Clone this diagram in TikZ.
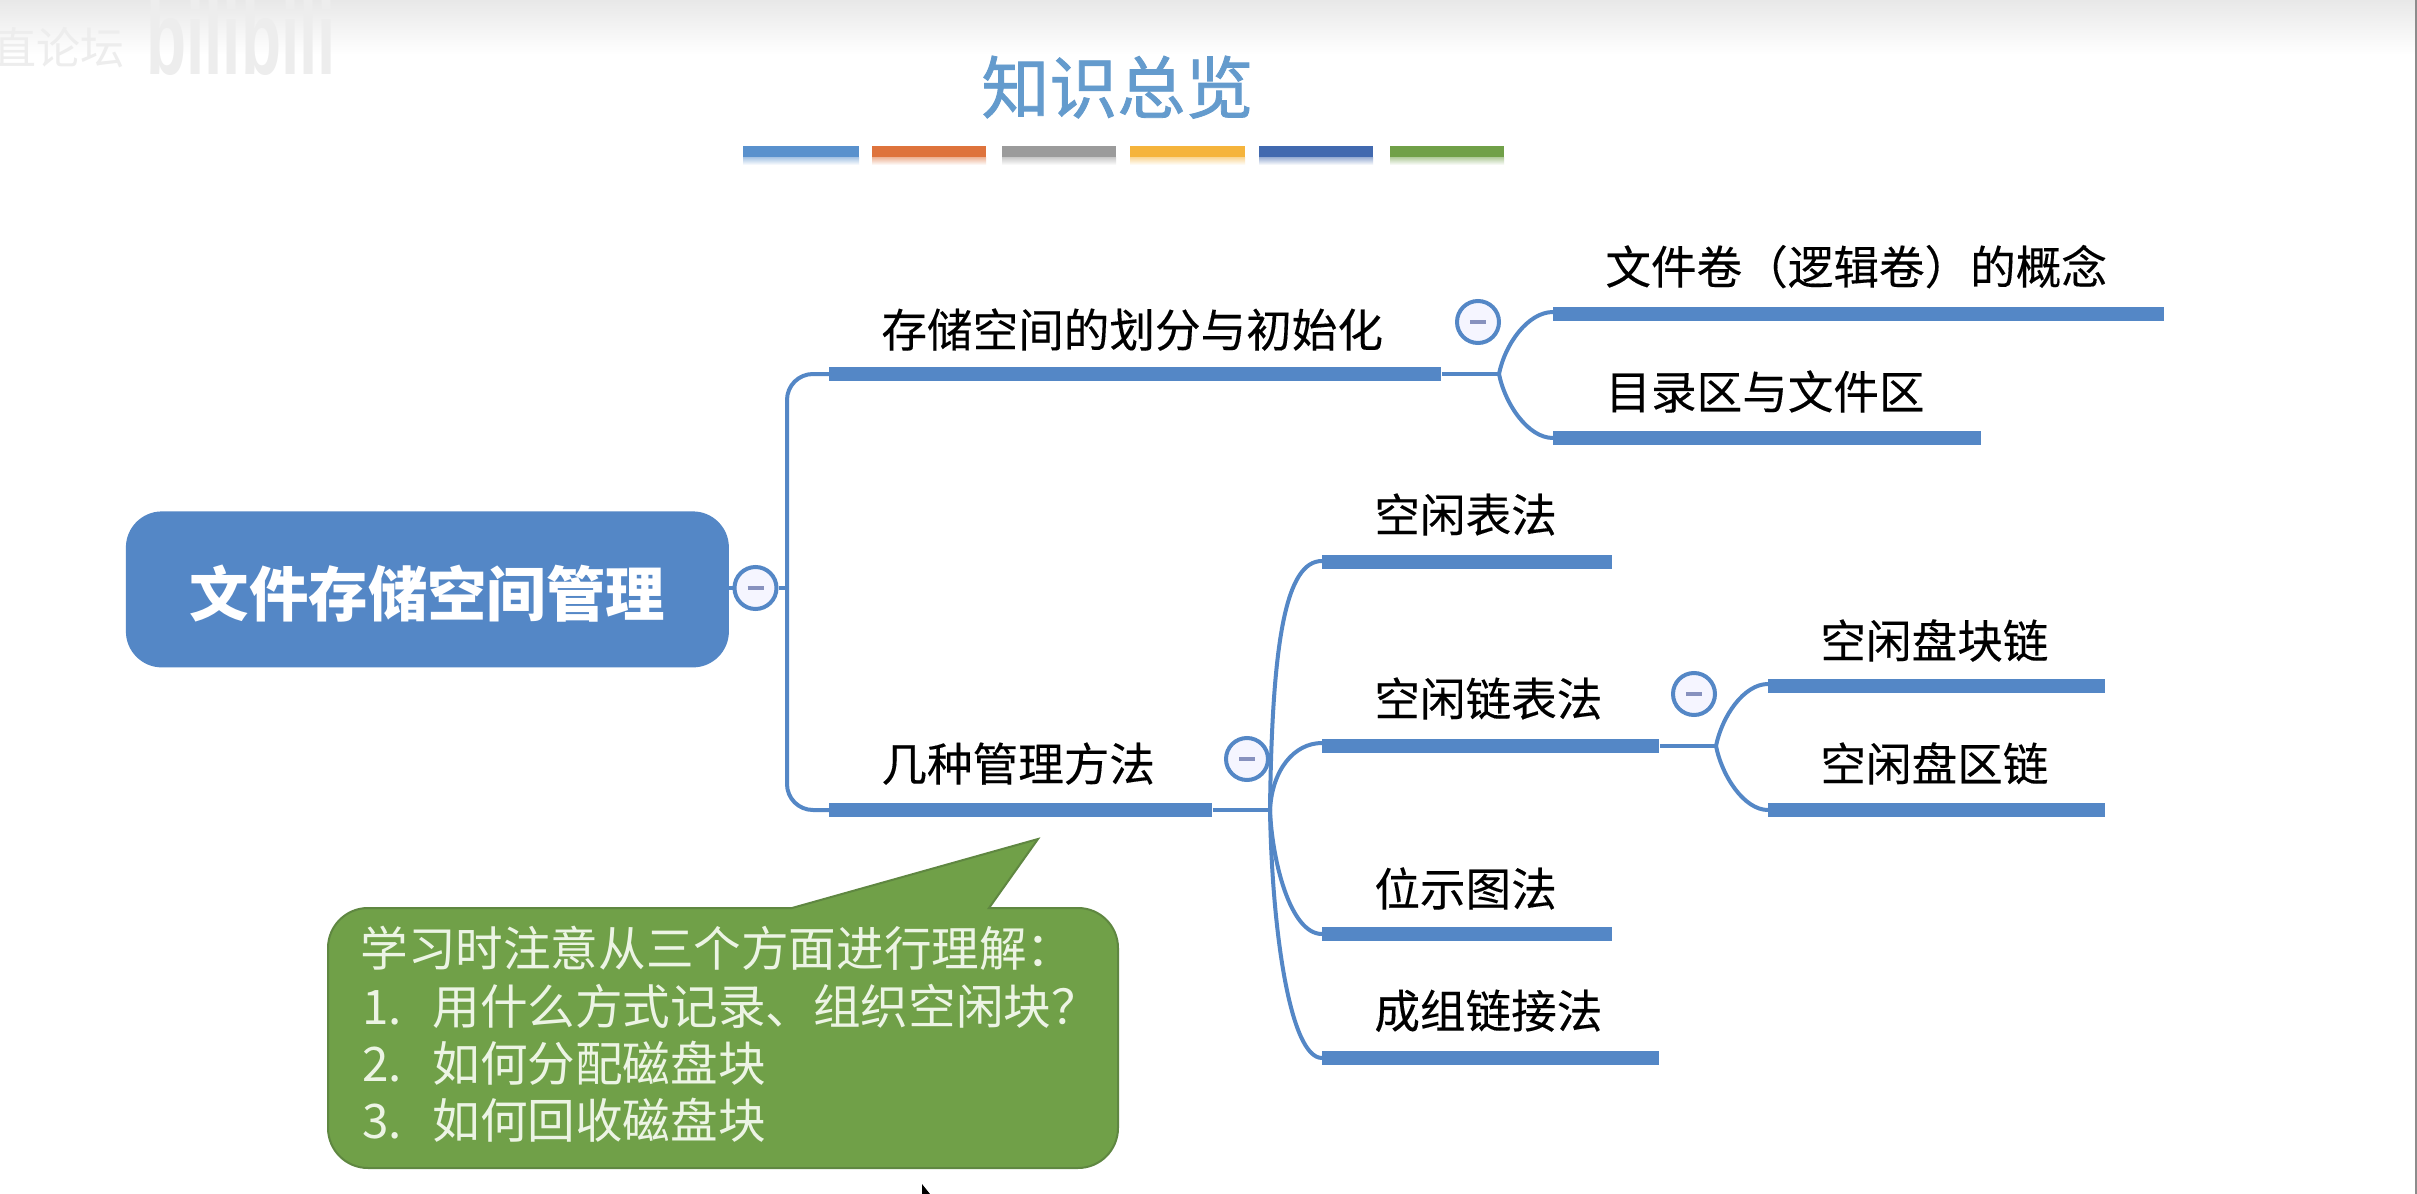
\documentclass[tikz,border=0pt]{standalone}
\usepackage{fontspec}
\setmainfont{Noto Sans CJK SC}
\newfontfamily\latinwm{Liberation Sans}
\newfontfamily\titlefont[FakeBold=1.2]{Noto Sans CJK SC}
\newfontfamily\labelfont[FakeBold=0.25]{Noto Sans CJK SC}
\usetikzlibrary{calc}
\definecolor{mapblue}{RGB}{84,135,198}
\definecolor{minuscol}{RGB}{135,145,190}
\definecolor{calloutg}{RGB}{112,160,72}
\definecolor{calloutl}{RGB}{95,135,65}
\definecolor{titleblue}{RGB}{100,155,205}
\definecolor{callouttxt}{RGB}{236,244,228}
\definecolor{b1c}{RGB}{89,145,205}
\definecolor{b2c}{RGB}{222,115,60}
\definecolor{b3c}{RGB}{155,155,155}
\definecolor{b4c}{RGB}{245,180,60}
\definecolor{b5c}{RGB}{65,105,175}
\definecolor{b6c}{RGB}{112,160,72}
\tikzset{
  x=0.5pt,y=-0.5pt,
  barnode/.style={fill=mapblue,draw=none,inner sep=0pt,minimum height=7pt,anchor=west,rectangle},
  label22/.style={inner sep=0pt,anchor=base west,font=\fontsize{22.8pt}{24pt}\labelfont,text=black},
  callout/.style={inner sep=0pt,anchor=base west,font=\fontsize{23.8pt}{25pt}\selectfont,text=callouttxt},
  link/.style={draw=mapblue,line width=2pt},
  collapse/.style={circle,draw=mapblue,line width=2pt,fill=white!96!blue,minimum size=21pt,inner sep=0pt},
  minusbar/.style={draw=minuscol,line width=2pt},
  strip/.style={fill=#1,draw=none,minimum height=5.5pt,inner sep=0pt,rectangle,anchor=north west},
}
\newcommand{\stripbar}[5]{%
  \fill[top color=#5!55,bottom color=white] (#1,157) rectangle (#2,165);
  \node[strip=#5,minimum width=#3pt] (#4) at (#1,146) {};}
\newcommand{\minusin}[1]{\draw[minusbar] ($(#1)+(-8,0)$) -- ($(#1)+(8,0)$);}
\begin{document}
\begin{tikzpicture}
\useasboundingbox (0,0) rectangle (2417,1194);
\fill[white] (0,0) rectangle (2417,1194);
\fill[top color=black!9,bottom color=white] (0,0) rectangle (2417,55);
\fill[black!45] (2415,0) rectangle (2417,1194);
% watermark
\node[inner sep=0pt,anchor=base west,text=black!7,font=\fontsize{22pt}{24pt}\selectfont] (wm1) at (-8,64) {直论坛};
\node[inner sep=0pt,anchor=base west,text=black!7,font=\fontsize{40pt}{40pt}\latinwm\bfseries] (wm2) at (146,74) {\scalebox{0.82}[1.3]{bilibili}};
% title
\node[inner sep=0pt,anchor=base west,text=titleblue,font=\fontsize{34pt}{36pt}\titlefont] (title) at (981,113) {知识总览};
\stripbar{743}{859}{58}{s1}{b1c}
\stripbar{872}{986}{57}{s2}{b2c}
\stripbar{1002}{1116}{57}{s3}{b3c}
\stripbar{1130}{1245}{57.5}{s4}{b4c}
\stripbar{1259}{1373}{57}{s5}{b5c}
\stripbar{1390}{1504}{57}{s6}{b6c}
% root
\node[fill=mapblue,rounded corners=18pt,rectangle,inner sep=0pt,minimum width=301.5pt,minimum height=78pt,anchor=north west,text=white,font=\fontsize{29.7pt}{32pt}\selectfont\bfseries] (root) at (125.5,511) {\raisebox{-2.3pt}[\height][\depth]{文件存储空间管理}};
% bars
\node[barnode,minimum width=306pt] (a1) at (829,374) {};
\node[barnode,minimum width=191.5pt] (a2) at (829,810) {};
\node[barnode,minimum width=305.5pt] (c1) at (1553,314) {};
\node[barnode,minimum width=214pt] (c2) at (1553,438) {};
\node[barnode,minimum width=145pt] (d1) at (1322,562) {};
\node[barnode,minimum width=168.5pt] (d2) at (1322,746) {};
\node[barnode,minimum width=145pt] (d3) at (1322,934) {};
\node[barnode,minimum width=168.5pt] (d4) at (1322,1058) {};
\node[barnode,minimum width=168.5pt] (e1) at (1768,686) {};
\node[barnode,minimum width=168.5pt] (e2) at (1768,810) {};
% labels
\node[label22] (ta1) at (881,347) {存储空间的划分与初始化};
\node[label22] (ta2) at (881,781) {几种管理方法};
\node[label22] (tc1) at (1605,284) {文件卷（逻辑卷）的概念};
\node[label22] (tc2) at (1605,409) {目录区与文件区};
\node[label22] (td1) at (1374,532) {空闲表法};
\node[label22] (td2) at (1374,716) {空闲链表法};
\node[label22] (td3) at (1374,906) {位示图法};
\node[label22] (td4) at (1374,1028) {成组链接法};
\node[label22] (te1) at (1820,658) {空闲盘块链};
\node[label22] (te2) at (1820,781) {空闲盘区链};
% collapse
\node[collapse] (k0) at (755.5,588) {};
\node[collapse] (k1) at (1478,322) {};
\node[collapse] (k2) at (1247,759) {};
\node[collapse] (k3) at (1694,694) {};
\minusin{k0}\minusin{k1}\minusin{k2}\minusin{k3}
% junctions
\coordinate (j0) at (787,588);
\coordinate (j1) at (1499,374);
\coordinate (j2) at (1270,810);
\coordinate (j3) at (1716,746);
% links
\draw[link] (root.east |- k0) -- (k0.west);
\draw[link] (k0.east) -- (j0);
\draw[link,rounded corners=13pt] (a1.west) -| (j0) |- (a2.west);
\draw[link] (a1.east) -- (j1);
\draw[link] (a2.east) -- (j2);
\draw[link] (d2.east) -- (j3);
\draw[link] (j1) .. controls ($(j1)+(6,-30)$) and ($(c1.west)+(-25,-2)$) .. ($(c1.west)+(0,-2)$);
\draw[link] (j1) .. controls ($(j1)+(6,30)$) and ($(c2.west)+(-25,0)$) .. (c2.west);
\draw[link] (j2) .. controls ($(j2)+(2,-170)$) and ($(d1.west)+(-36,-1)$) .. ($(d1.west)+(0,-1)$);
\draw[link] (j2) .. controls ($(j2)+(2,-40)$) and ($(d2.west)+(-28,-3)$) .. ($(d2.west)+(0,-3)$);
\draw[link] (j2) .. controls ($(j2)+(2,50)$) and ($(d3.west)+(-32,0)$) .. (d3.west);
\draw[link] (j2) .. controls ($(j2)+(2,120)$) and ($(d4.west)+(-32,0)$) .. (d4.west);
\draw[link] (j3) .. controls ($(j3)+(6,-30)$) and ($(e1.west)+(-24,-2)$) .. ($(e1.west)+(0,-2)$);
\draw[link] (j3) .. controls ($(j3)+(6,30)$) and ($(e2.west)+(-24,0)$) .. (e2.west);
% callout
\draw[fill=calloutg,draw=calloutl,line width=1pt]
  (792,908) -- (1038,839) -- (989,908) [rounded corners=20pt] -- (1118,908)
  -- (1118,1168) -- (328,1168) -- (328,908) [sharp corners] -- cycle;
\node[callout] (n0) at (360,966) {学习时注意从三个方面进行理解：};
\node[callout] (n1) at (362,1024) {1.};
\node[callout] (n2) at (362,1081) {2.};
\node[callout] (n3) at (362,1138) {3.};
\node[callout] (l1) at (432,1024) {用什么方式记录、组织空闲块？};
\node[callout] (l2) at (432,1081) {如何分配磁盘块};
\node[callout] (l3) at (432,1138) {如何回收磁盘块};
% pointer
\fill[black] (922,1184) -- (922,1194) -- (930,1194) -- cycle;
\end{tikzpicture}
\end{document}
